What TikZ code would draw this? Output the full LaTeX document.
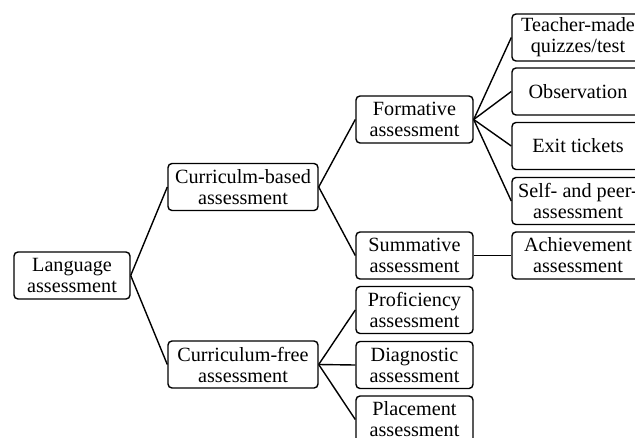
\documentclass[tikz,border=0pt]{standalone}
\usepackage{fontspec}
\setmainfont{Liberation Serif}
\begin{document}
\begin{tikzpicture}[x=1pt,y=-1pt,
  box/.style={draw, line width=1.4pt, rounded corners=4pt, align=center,
    font=\fontsize{20.2}{21}\selectfont, inner sep=0pt, minimum height=47pt},
  lvlA/.style={box, minimum width=116pt},
  lvlB/.style={box, minimum width=150pt},
  lvlC/.style={box, minimum width=117pt},
  lvlD/.style={box, minimum width=132pt},
  link/.style={line width=1.4pt}]
\useasboundingbox (0,0) rectangle (635,437);
\clip (0,0) rectangle (635,437);
\node[lvlA] (lang) at (72,275.5) {Language\\assessment};
\node[lvlB] (cb) at (243,187) {Curriculm-based\\assessment};
\node[lvlB] (cf) at (243,364.5) {Curriculum-free\\assessment};
\node[lvlC] (form) at (414.5,119.5) {Formative\\assessment};
\node[lvlC] (summ) at (414.5,255.5) {Summative\\assessment};
\node[lvlC] (prof) at (414.5,310) {Proficiency\\assessment};
\node[lvlC] (diag) at (414.5,365) {Diagnostic\\assessment};
\node[lvlC] (plac) at (414.5,419.5) {Placement\\assessment};
\node[lvlD] (teach) at (578,37.5) {Teacher-made\\quizzes/test};
\node[lvlD] (obs) at (578,91.5) {Observation};
\node[lvlD] (exit) at (578,146) {Exit tickets};
\node[lvlD] (self) at (578,201) {Self- and peer-\\assessment};
\node[lvlD] (ach) at (578,255.5) {Achievement\\assessment};
\draw[link] (lang.east) -- (cb.west);
\draw[link] (lang.east) -- (cf.west);
\draw[link] (cb.east) -- (form.west);
\draw[link] (cb.east) -- (summ.west);
\draw[link] (cf.east) -- (prof.west);
\draw[link] (cf.east) -- (diag.west);
\draw[link] (cf.east) -- (plac.west);
\draw[link] (form.east) -- (teach.west);
\draw[link] (form.east) -- (obs.west);
\draw[link] (form.east) -- (exit.west);
\draw[link] (form.east) -- (self.west);
\draw[link] (summ.east) -- (ach.west);
\end{tikzpicture}
\end{document}
